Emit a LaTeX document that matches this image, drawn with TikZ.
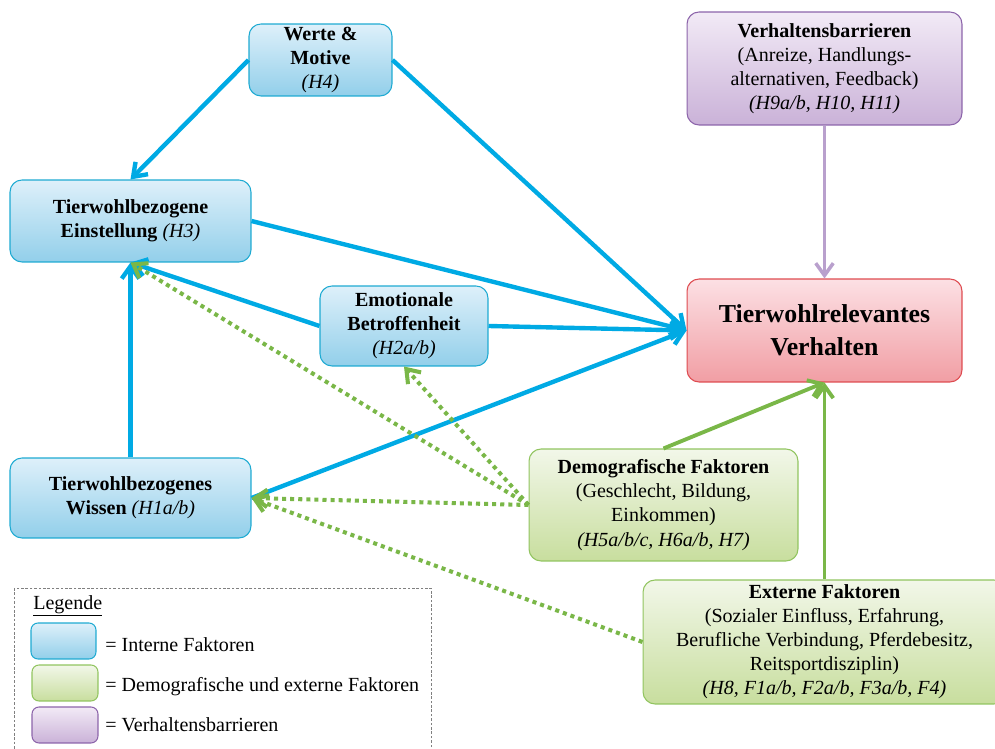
\documentclass[tikz,border=0pt]{standalone}
\usepackage{fontspec}
\setmainfont{Liberation Serif}
\usetikzlibrary{arrows.meta}
\definecolor{blueline}{RGB}{0,170,228}
\definecolor{bluetop}{RGB}{222,240,250}
\definecolor{bluebot}{RGB}{146,207,234}
\definecolor{blueborder}{RGB}{30,170,210}
\definecolor{greenline}{RGB}{122,183,72}
\definecolor{greentop}{RGB}{242,247,233}
\definecolor{greenbot}{RGB}{200,222,158}
\definecolor{greenborder}{RGB}{145,196,95}
\definecolor{purpleline}{RGB}{185,160,205}
\definecolor{purpletop}{RGB}{242,234,246}
\definecolor{purplebot}{RGB}{202,178,216}
\definecolor{purpleborder}{RGB}{140,100,170}
\definecolor{redtop}{RGB}{252,224,228}
\definecolor{redbot}{RGB}{241,158,164}
\definecolor{redborder}{RGB}{222,75,80}
\begin{document}
\begin{tikzpicture}[x=0.02cm,y=-0.02cm,
box/.style={rounded corners=0.24cm, inner sep=0pt, align=center, line width=0.6pt, font=\fontsize{11.4}{13.7}\selectfont},
intern/.style={box, draw=blueborder, top color=bluetop, bottom color=bluebot},
extern/.style={box, draw=greenborder, top color=greentop, bottom color=greenbot},
barrier/.style={box, draw=purpleborder, top color=purpletop, bottom color=purplebot},
target/.style={box, draw=redborder, top color=redtop, bottom color=redbot, font=\fontsize{14.7}{18.8}\selectfont\bfseries},
tip/.style={-{Straight Barb[length=7pt,width=10pt]}},
bluearrow/.style={tip, draw=blueline, line width=2.5pt},
greenarrow/.style={tip, draw=greenline, line width=2.2pt},
greendots/.style={tip, draw=greenline, line width=2.3pt, dash pattern=on 2.3pt off 2.3pt},
purplearrow/.style={tip, draw=purpleline, line width=2pt},
legtext/.style={anchor=west, inner sep=0pt, font=\fontsize{11.4}{13.7}\selectfont}]
\useasboundingbox (0,0) rectangle (995,749);
\node[intern, minimum width=2.86cm, minimum height=1.44cm] (werte) at (320.5,60){\textbf{Werte \&}\\\textbf{Motive}\\\textit{(H4)}};
\node[intern, minimum width=4.82cm, minimum height=1.64cm] (einst) at (130.5,221){\textbf{Tierwohlbezogene}\\\textbf{Einstellung} \textit{(H3)}};
\node[intern, minimum width=3.36cm, minimum height=1.6cm] (emo) at (404,326){\textbf{Emotionale}\\\textbf{Betroffenheit}\\\textit{(H2a/b)}};
\node[intern, minimum width=4.82cm, minimum height=1.6cm] (wissen) at (130.5,498){\textbf{Tierwohlbezogenes}\\\textbf{Wissen} \textit{(H1a/b)}};
\node[barrier, minimum width=5.5cm, minimum height=2.26cm] (barr) at (824.5,68.5){\textbf{Verhaltensbarrieren}\\(Anreize, Handlungs-\\alternativen, Feedback)\\\textit{(H9a/b, H10, H11)}};
\node[target, minimum width=5.5cm, minimum height=2.06cm] (verh) at (824.5,330.5){Tierwohlrelevantes\\Verhalten};
\node[extern, minimum width=5.38cm, minimum height=2.24cm] (demo) at (663.5,505){\textbf{Demografische Faktoren}\\(Geschlecht, Bildung,\\Einkommen)\\\textit{(H5a/b/c, H6a/b, H7)}};
\node[extern, minimum width=7.26cm, minimum height=2.48cm] (ext) at (824.5,642){\textbf{Externe Faktoren}\\(Sozialer Einfluss, Erfahrung,\\Berufliche Verbindung, Pferdebesitz,\\Reitsportdisziplin)\\\textit{(H8, F1a/b, F2a/b, F3a/b, F4)}};
\draw[bluearrow](werte.west) -- (einst.north);
\draw[bluearrow](werte.east) -- (verh.west);
\draw[bluearrow](einst.east) -- (verh.west);
\draw[bluearrow](emo.east) -- (verh.west);
\draw[bluearrow](wissen.east) -- (verh.west);
\draw[bluearrow](emo.west) -- (einst.south);
\draw[bluearrow](wissen.north) -- (einst.south);
\draw[purplearrow](barr.south) -- (verh.north);
\draw[greenarrow](demo.north) -- (verh.south);
\draw[greenarrow](ext.north) -- (verh.south);
\draw[greendots](demo.west) -- (einst.south);
\draw[greendots](demo.west) -- (emo.south);
\draw[greendots](demo.west) -- (wissen.east);
\draw[greendots](ext.west) -- (wissen.east);
\draw[gray, line width=0.5pt, dash pattern=on 1.5pt off 1pt] (14,588) rectangle (431,760);
\node[legtext] (legtitle) at (33,606){\underline{Legende}};
\node[intern, rounded corners=0.14cm, minimum width=1.3cm, minimum height=0.72cm] (leg1) at (63.5,641){};
\node[extern, rounded corners=0.14cm, minimum width=1.32cm, minimum height=0.72cm] (leg2) at (65,683){};
\node[barrier, rounded corners=0.14cm, minimum width=1.32cm, minimum height=0.72cm] (leg3) at (65,725){};
\node[legtext] (legtext1) at (105,645){= Interne Faktoren};
\node[legtext] (legtext2) at (105,687){= Demografische und externe Faktoren};
\node[legtext] (legtext3) at (105,725){= Verhaltensbarrieren};
\end{tikzpicture}
\end{document}
